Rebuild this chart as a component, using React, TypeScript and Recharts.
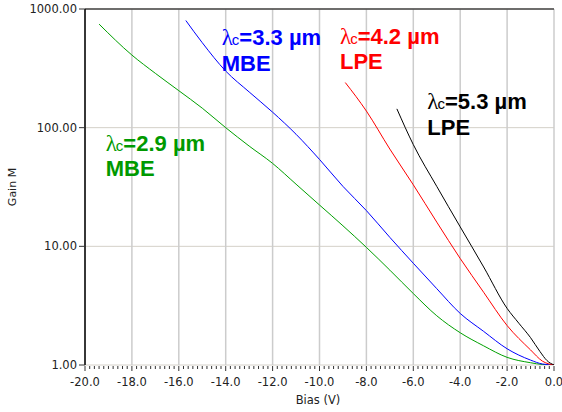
import React from "react";
import { LineChart, Line, XAxis, YAxis, CartesianGrid, ReferenceLine } from "recharts";

// ---- data ----
const greenBias = [-19.4, -18, -17, -16, -15, -14, -13, -12, -11, -10, -9, -8, -7, -6, -5, -4, -3, -2, -1, -0.5, 0];
const greenGain = [746, 409, 287, 205, 146, 100, 70, 50, 33.4, 22.3, 14.9, 9.8, 6.3, 4.0, 2.6, 1.87, 1.45, 1.16, 1.045, 1.01, 1.0];

const blueBias = [-15.7, -15, -14, -13, -12, -11, -10, -9, -8, -7, -6, -5, -4, -3, -2, -1, -0.5, 0];
const blueGain = [800, 520, 300, 200, 135, 88, 54, 32, 20, 11.9, 7.2, 4.4, 2.72, 1.92, 1.37, 1.1, 1.02, 1.0];

const redBias = [-8.9, -8, -7, -6, -5, -4, -3, -2, -1, -0.5, 0];
const redGain = [240, 138, 66, 33, 16, 7.9, 4.1, 2.15, 1.34, 1.08, 1.0];

const blackBias = [-6.7, -6, -5, -4, -3, -2, -1.5, -1, -0.6, -0.3, 0];
const blackGain = [144, 72, 32, 14.6, 6.7, 3.0, 2.25, 1.7, 1.3, 1.09, 1.0];

const majorBiasTicks = [-20, -18, -16, -14, -12, -10, -8, -6, -4, -2, 0];
const minorBiasTicks = Array.from({ length: 101 }, (_, i) => Math.round((-20 + i * 0.2) * 10) / 10);
const gainTicks = [1, 10, 100, 1000];

const seriesLabels = [
  { cutoff: "2.9", method: "MBE", color: "#009900" },
  { cutoff: "3.3", method: "MBE", color: "#0000ff" },
  { cutoff: "4.2", method: "LPE", color: "#ff0000" },
  { cutoff: "5.3", method: "LPE", color: "#000000" },
];
const labelPos = [
  { x: 105.7, y: 150.7 },
  { x: 221.7, y: 45 },
  { x: 340, y: 43.5 },
  { x: 427.3, y: 109.3 },
];

const toPoints = (b: number[], g: number[]) => b.map((v, i) => ({ v, g: g[i] }));
const greenData = toPoints(greenBias, greenGain);
const blueData = toPoints(blueBias, blueGain);
const redData = toPoints(redBias, redGain);
const blackData = toPoints(blackBias, blackGain);

const FONT = "'DejaVu Sans', Verdana, sans-serif";

function BiasTick(props: any) {
  const { x, y, payload } = props;
  const v = payload.value as number;
  const major = Math.abs(v / 2 - Math.round(v / 2)) < 1e-6;
  return (
    <g>
      <line x1={x} x2={x} y1={y + 1} y2={y + (major ? 6 : 4)} stroke="#333" strokeWidth={1} />
      {major && (
        <text x={x} y={y + 21} textAnchor="middle" fontSize={11.5} fill="#222" fontFamily={FONT}>
          {v.toFixed(1)}
        </text>
      )}
    </g>
  );
}

function CurveLabel({ x, y, color, cutoff, method }: any) {
  return (
    <text x={x} y={y} fill={color} fontFamily="'Liberation Sans', Arial, sans-serif" fontWeight="bold" fontSize={22}>
      <tspan fontFamily="'Liberation Serif', 'DejaVu Serif', serif" fontWeight="normal" fontSize={23}>λ</tspan>
      <tspan fontWeight="normal" fontSize={15} dx={-1}>c</tspan>
      <tspan>={cutoff} µm</tspan>
      <tspan x={x} dy={25.5}>{method}</tspan>
    </text>
  );
}

export default function App() {
  return (
    <div style={{ position: "absolute", left: 0, top: 0, width: 562, height: 412, background: "#fff" }}>
      <LineChart width={562} height={412} margin={{ top: 9, right: 8, bottom: 17, left: 0 }}>
        <CartesianGrid vertical={false} stroke="#d4d0c8" strokeWidth={1} />
        {majorBiasTicks.map((t) => (
          <ReferenceLine key={t} x={t} stroke="#cccccc" strokeWidth={1.5} ifOverflow="visible" />
        ))}
        <ReferenceLine y={1000} stroke="#444" strokeWidth={1.5} />
        <XAxis
          dataKey="v"
          type="number"
          domain={[-20, 0]}
          ticks={minorBiasTicks}
          interval={0}
          allowDataOverflow
          axisLine={false}
          tickLine={false}
          tickSize={0}
          tickMargin={0}
          height={30}
          tick={BiasTick}
        />
        <YAxis
          dataKey="g"
          type="number"
          scale="log"
          domain={[1, 1000]}
          ticks={gainTicks}
          interval={0}
          allowDataOverflow
          width={85}
          tickSize={6}
          tickMargin={2}
          axisLine={{ stroke: "#000", strokeWidth: 1.5 }}
          tickLine={{ stroke: "#333" }}
          tick={{ fontSize: 11.5, fill: "#222", fontFamily: FONT }}
          tickFormatter={(v: number) => v.toFixed(2)}
        />
        <Line data={greenData} dataKey="g" type="monotone" stroke="#00a000" strokeWidth={1} dot={false} isAnimationActive={false} />
        <Line data={blueData} dataKey="g" type="monotone" stroke="#0000ff" strokeWidth={1} dot={false} isAnimationActive={false} />
        <Line data={redData} dataKey="g" type="monotone" stroke="#ff0000" strokeWidth={1} dot={false} isAnimationActive={false} />
        <Line data={blackData} dataKey="g" type="monotone" stroke="#000000" strokeWidth={1} dot={false} isAnimationActive={false} />
      </LineChart>
      <svg width={562} height={412} style={{ position: "absolute", left: 0, top: 0, pointerEvents: "none" }}>
        {seriesLabels.map((s, i) => (
          <CurveLabel key={i} x={labelPos[i].x} y={labelPos[i].y} color={s.color} cutoff={s.cutoff} method={s.method} />
        ))}
        <text x={318} y={404} textAnchor="middle" fontSize={11.5} fill="#222" fontFamily={FONT}>Bias (V)</text>
        <text x={16} y={187} textAnchor="middle" fontSize={11} fill="#222" fontFamily={FONT} transform="rotate(-90 16 187)">Gain M</text>
      </svg>
    </div>
  );
}
